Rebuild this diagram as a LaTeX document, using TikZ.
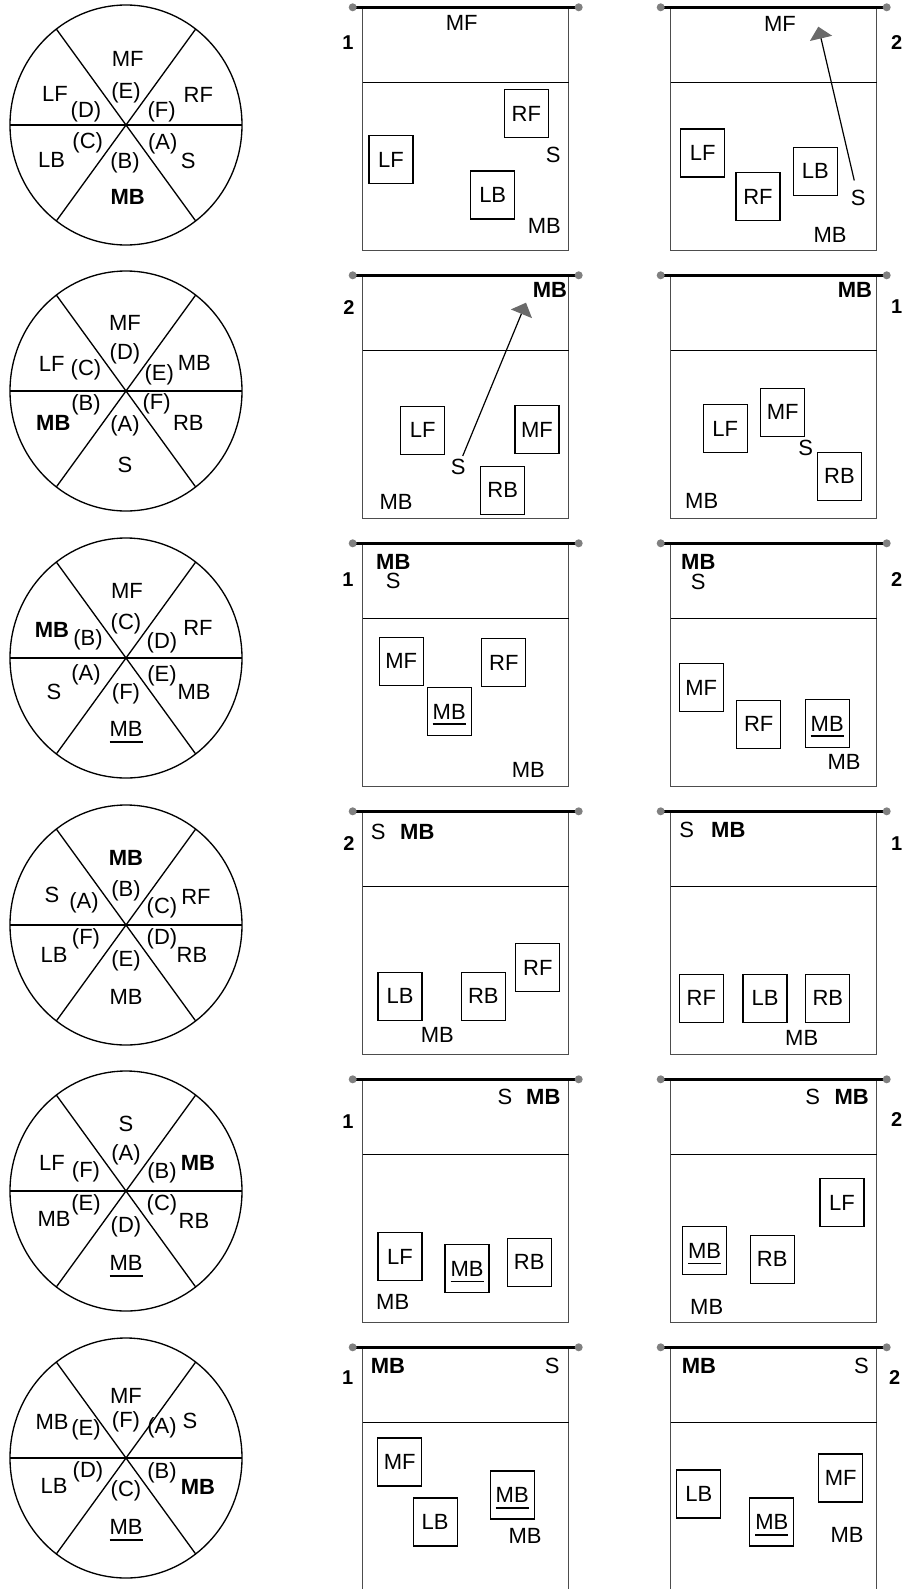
\documentclass[tikz,border=0pt]{standalone}
\usepackage{fontspec}
\setmainfont{Liberation Sans}
\usetikzlibrary{arrows.meta}
\definecolor{dotgray}{HTML}{808080}
\definecolor{framegray}{HTML}{4D4D4D}
\definecolor{headgray}{HTML}{6A6A6A}
\newcommand\fs{\fontsize{16.5pt}{19pt}\selectfont}
\newcommand\ulmb{\setbox0\hbox{MB}\copy0\llap{\smash{\rule[-4.5pt]{\wd0}{1.4pt}}}}
\newcommand\court[2]{%
  \draw[courtline] (#1,#2) rectangle (#1+206,#2+243);
  \draw[attack] (#1,#2+75) -- (#1+206,#2+75);
  \draw[netline] (#1-10,#2) -- (#1+216,#2);
  \fill[netdot] (#1-10,#2) circle[radius=3pt] (#1+216,#2) circle[radius=3pt];}
\newcommand\wheel[1]{%
  \draw[ring] (126,#1) ellipse [x radius=116, y radius=120];
  \draw[ring] (10,#1) -- (242,#1);
  \draw[ring] (56.3,#1-96) -- (195.7,#1+96);
  \draw[ring] (56.3,#1+96) -- (195.7,#1-96);}
\begin{document}
\begin{tikzpicture}[x=0.75pt,y=-0.75pt,
  lbl/.style={font=\fs,inner sep=0pt},
  bl/.style={font=\fs\bfseries,inner sep=0pt},
  num/.style={font=\fontsize{15pt}{17pt}\selectfont\bfseries,inner sep=0pt},
  pbox/.style={draw,line width=0.9pt,font=\fs,inner sep=0pt,minimum width=33pt,minimum height=36pt},
  ring/.style={line width=1pt},
  courtline/.style={draw=framegray,line width=0.9pt},
  attack/.style={line width=1.2pt},
  netline/.style={line width=2.4pt},
  netdot/.style={fill=dotgray},
  run/.style={line width=0.9pt,-{Triangle[width=17pt,length=9pt,color=headgray]}}
]
\useasboundingbox (0,0) rectangle (906,1589);

% ---------------- wheels ----------------
\wheel{125}
\begin{scope}[shift={(126,125)}]
  \node[lbl] (w1mf) at (1.7,-65.7) {MF};
  \node[lbl] (w1e) at (0,-32.3) {(E)};
  \node[lbl] (w1lf) at (-71,-30.7) {LF};
  \node[lbl] (w1d) at (-40,-13.3) {(D)};
  \node[lbl] (w1rf) at (72.3,-30) {RF};
  \node[lbl] (w1f) at (35.7,-13.3) {(F)};
  \node[lbl] (w1lb) at (-74.3,35) {LB};
  \node[lbl] (w1c) at (-38.3,17.7) {(C)};
  \node[lbl] (w1b) at (-1,38.3) {(B)};
  \node[bl] (w1mb) at (1.7,71.7) {MB};
  \node[lbl] (w1a) at (36.7,19.3) {(A)};
  \node[lbl] (w1s) at (62.3,36) {S};
\end{scope}

\wheel{391}
\begin{scope}[shift={(126,391)}]
  \node[lbl] (w2mf) at (-1,-67.7) {MF};
  \node[lbl] (w2d) at (-1,-37) {(D)};
  \node[lbl] (w2lf) at (-74.3,-27) {LF};
  \node[lbl] (w2c) at (-40,-21) {(C)};
  \node[lbl] (w2mb) at (68.3,-27.7) {MB};
  \node[lbl] (w2e) at (33.3,-16) {(E)};
  \node[lbl] (w2b) at (-40,14) {(B)};
  \node[bl] (w2mbb) at (-72.7,32.3) {MB};
  \node[lbl] (w2a) at (-1,34.7) {(A)};
  \node[lbl] (w2s) at (-1,74) {S};
  \node[lbl] (w2f) at (30.7,12.3) {(F)};
  \node[lbl] (w2rb) at (62.3,32.3) {RB};
\end{scope}

\wheel{658}
\begin{scope}[shift={(126,658)}]
  \node[lbl] (w3mf) at (1,-67) {MF};
  \node[lbl] (w3c) at (0,-34) {(C)};
  \node[bl] (w3mbb) at (-74,-28) {MB};
  \node[lbl] (w3b) at (-38,-18) {(B)};
  \node[lbl] (w3d) at (36,-15) {(D)};
  \node[lbl] (w3rf) at (72,-30) {RF};
  \node[lbl] (w3s) at (-72,34) {S};
  \node[lbl] (w3a) at (-40,17) {(A)};
  \node[lbl] (w3e) at (36,18) {(E)};
  \node[lbl] (w3mb) at (68,34) {MB};
  \node[lbl] (w3f) at (0,36) {(F)};
  \node[lbl] (w3mbu) at (0,71) {\ulmb};
\end{scope}

\wheel{925}
\begin{scope}[shift={(126,925)}]
  \node[bl] (w4mbb) at (0,-67) {MB};
  \node[lbl] (w4b) at (0,-34) {(B)};
  \node[lbl] (w4s) at (-74,-30) {S};
  \node[lbl] (w4a) at (-42,-22) {(A)};
  \node[lbl] (w4c) at (36,-17) {(C)};
  \node[lbl] (w4rf) at (70,-28) {RF};
  \node[lbl] (w4lb) at (-72,30) {LB};
  \node[lbl] (w4f) at (-40,14) {(F)};
  \node[lbl] (w4d) at (36,14) {(D)};
  \node[lbl] (w4rb) at (66,30) {RB};
  \node[lbl] (w4e) at (0,36) {(E)};
  \node[lbl] (w4mb) at (0,72) {MB};
\end{scope}

\wheel{1191}
\begin{scope}[shift={(126,1191)}]
  \node[lbl] (w5s) at (0,-67) {S};
  \node[lbl] (w5a) at (0,-36) {(A)};
  \node[lbl] (w5lf) at (-74,-28) {LF};
  \node[lbl] (w5f) at (-40,-19) {(F)};
  \node[lbl] (w5b) at (36,-18) {(B)};
  \node[bl] (w5mbb) at (72,-28) {MB};
  \node[lbl] (w5mb) at (-72,28) {MB};
  \node[lbl] (w5e) at (-40,14) {(E)};
  \node[lbl] (w5c) at (36,14) {(C)};
  \node[lbl] (w5rb) at (68,30) {RB};
  \node[lbl] (w5d) at (0,36) {(D)};
  \node[lbl] (w5mbu) at (0,72) {\ulmb};
\end{scope}

\wheel{1458}
\begin{scope}[shift={(126,1458)}]
  \node[lbl] (w6mf) at (0,-62) {MF};
  \node[lbl] (w6f) at (0,-36) {(F)};
  \node[lbl] (w6mb) at (-74,-36) {MB};
  \node[lbl] (w6e) at (-40,-28) {(E)};
  \node[lbl] (w6a) at (36,-30) {(A)};
  \node[lbl] (w6s) at (64,-37) {S};
  \node[lbl] (w6lb) at (-72,28) {LB};
  \node[lbl] (w6d) at (-38,14) {(D)};
  \node[lbl] (w6b) at (36,15) {(B)};
  \node[bl] (w6mbb) at (72,29) {MB};
  \node[lbl] (w6c) at (0,33) {(C)};
  \node[lbl] (w6mbu) at (0,69) {\ulmb};
\end{scope}

% ---------------- courts ----------------
\court{362.7}{7.3}   \court{670.7}{7.3}
\court{362.7}{275.3} \court{670.7}{275.3}
\court{362.7}{543.3} \court{670.7}{543.3}
\court{362.7}{811.3} \court{670.7}{811.3}
\court{362.7}{1079.3}\court{670.7}{1079.3}
\court{362.7}{1347.3}\court{670.7}{1347.3}

% row 1
\node[lbl] (a1mf) at (461.7,23.3) {MF};
\node[num] (a1n) at (348,43) {1};
\node[pbox] (a1rf) at (526.3,113.8) {RF};
\node[pbox] (a1lf) at (391,159.7) {LF};
\node[pbox] (a1lb) at (492.7,195) {LB};
\node[lbl] (a1s) at (553.3,155) {S};
\node[lbl] (a1mb) at (544.3,226) {MB};

\node[lbl] (b1mf) at (780,24) {MF};
\node[num] (b1n) at (896.7,43) {2};
\node[pbox] (b1lf) at (702.7,153) {LF};
\node[pbox] (b1rf) at (758,196.7) {RF};
\node[pbox] (b1lb) at (815.3,171.2) {LB};
\node[lbl,inner sep=3pt] (b1s) at (858.3,197.7) {S};
\node[lbl] (b1mb) at (830,235) {MB};
\coordinate (b1t) at (818.3,26.7);
\draw[run,shorten <=4pt] (b1s) -- (b1t);

% row 2
\node[bl] (a2mbb) at (550,290) {MB};
\node[num] (a2n) at (349,308) {2};
\node[pbox] (a2lf) at (422.8,430.3) {LF};
\node[pbox] (a2mf) at (537,429.5) {MF};
\node[pbox] (a2rb) at (502.7,490.3) {RB};
\node[lbl,inner sep=2pt] (a2s) at (458.3,466.7) {S};
\node[lbl] (a2mb) at (396,501.7) {MB};
\coordinate (a2t) at (526,302.7);
\draw[run] (a2s) -- (a2t);

\node[bl] (b2mbb) at (855,290) {MB};
\node[num] (b2n) at (896.7,306.7) {1};
\node[pbox] (b2lf) at (725.3,428.5) {LF};
\node[pbox] (b2mf) at (782.7,412.2) {MF};
\node[lbl] (b2s) at (805.7,448.3) {S};
\node[pbox] (b2rb) at (839.5,476.2) {RB};
\node[lbl] (b2mb) at (701.7,500.7) {MB};

% row 3
\node[bl] (a3mbb) at (393.3,561.7) {MB};
\node[lbl] (a3s) at (393.3,581) {S};
\node[num] (a3n) at (348,580) {1};
\node[pbox] (a3mf) at (401.2,661.2) {MF};
\node[pbox] (a3rf) at (503.8,662.8) {RF};
\node[pbox] (a3mbu) at (449.2,711.5) {\ulmb};
\node[lbl] (a3mb) at (528.3,770) {MB};

\node[bl] (b3mbb) at (698.3,561.7) {MB};
\node[lbl] (b3s) at (698.3,582) {S};
\node[num] (b3n) at (896.7,580) {2};
\node[pbox] (b3mf) at (701.2,687.5) {MF};
\node[pbox] (b3rf) at (758.7,724.2) {RF};
\node[pbox] (b3mbu) at (827.2,723.5) {\ulmb};
\node[lbl] (b3mb) at (844,761.7) {MB};

% row 4
\node[lbl] (a4s) at (378.3,831.7) {S};
\node[bl] (a4mbb) at (417.3,831.7) {MB};
\node[num] (a4n) at (349,843.3) {2};
\node[pbox] (a4lb) at (400,996.2) {LB};
\node[pbox] (a4rb) at (483.3,996.2) {RB};
\node[pbox] (a4rf) at (537.8,967.5) {RF};
\node[lbl] (a4mb) at (437.3,1035) {MB};

\node[lbl] (b4s) at (686.7,830) {S};
\node[bl] (b4mbb) at (728.3,830) {MB};
\node[num] (b4n) at (896.7,844) {1};
\node[pbox] (b4rf) at (701.3,998.3) {RF};
\node[pbox] (b4lb) at (765,998.3) {LB};
\node[pbox] (b4rb) at (827.8,998.3) {RB};
\node[lbl] (b4mb) at (801.7,1038.3) {MB};

% row 5
\node[lbl] (a5s) at (505,1096.7) {S};
\node[bl] (a5mbb) at (543.3,1096.7) {MB};
\node[num] (a5n) at (348,1121.7) {1};
\node[pbox] (a5lf) at (400,1256.5) {LF};
\node[pbox] (a5mbu) at (467,1268.8) {\ulmb};
\node[pbox] (a5rb) at (529.2,1262.2) {RB};
\node[lbl] (a5mb) at (392.7,1301.7) {MB};

\node[lbl] (b5s) at (812.7,1096.7) {S};
\node[bl] (b5mbb) at (851.7,1096.7) {MB};
\node[num] (b5n) at (896.7,1120) {2};
\node[pbox] (b5lf) at (842,1202.5) {LF};
\node[pbox] (b5mbu) at (704.5,1250.8) {\ulmb};
\node[pbox] (b5rb) at (772.2,1259.2) {RB};
\node[lbl] (b5mb) at (706.7,1306.7) {MB};

% row 6
\node[bl] (a6mbb) at (388,1366) {MB};
\node[lbl] (a6s) at (552.3,1366) {S};
\node[num] (a6n) at (347.6,1378) {1};
\node[pbox] (a6mf) at (399.8,1462) {MF};
\node[pbox] (a6lb) at (435.2,1522) {LB};
\node[pbox] (a6mbu) at (512.2,1495) {\ulmb};
\node[lbl] (a6mb) at (525,1536) {MB};

\node[bl] (b6mbb) at (699,1366) {MB};
\node[lbl] (b6s) at (861.4,1366) {S};
\node[num] (b6n) at (894.8,1378) {2};
\node[pbox] (b6lb) at (698.8,1494) {LB};
\node[pbox] (b6mbu) at (771.8,1522) {\ulmb};
\node[pbox] (b6mf) at (840.7,1478) {MF};
\node[lbl] (b6mb) at (847,1535) {MB};
\end{tikzpicture}
\end{document}
